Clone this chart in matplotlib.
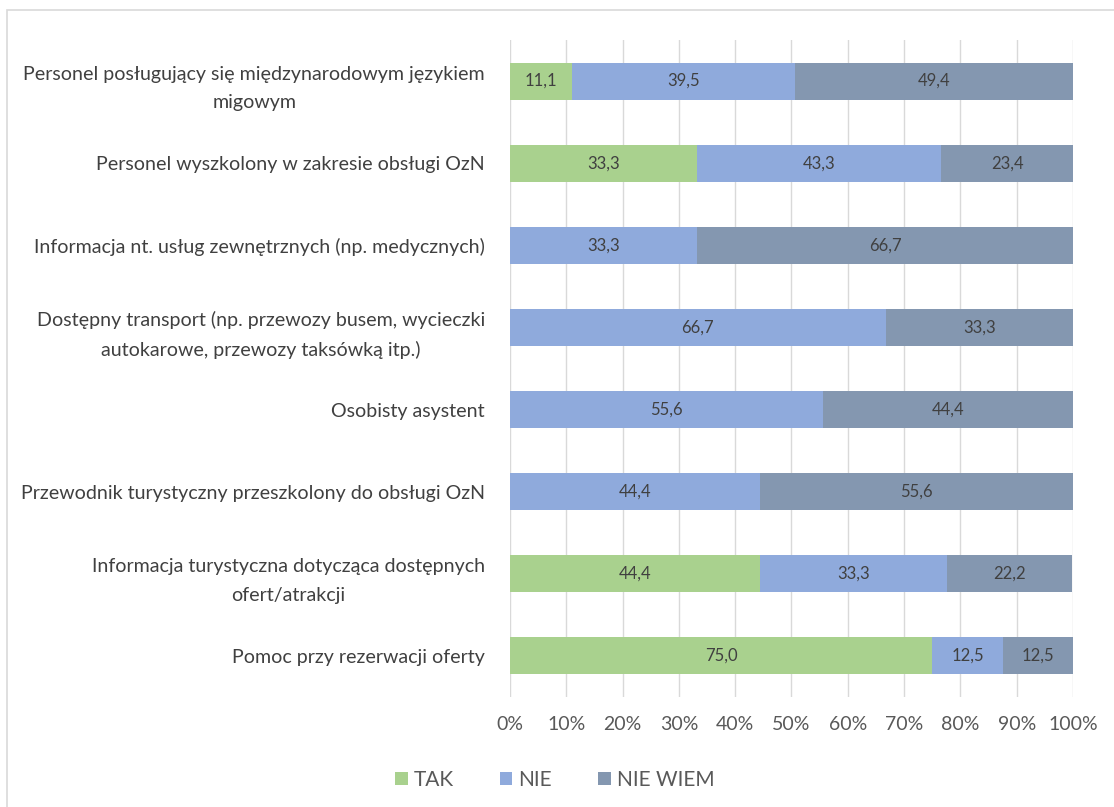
import matplotlib
matplotlib.use('Agg')
import matplotlib.pyplot as plt
import numpy as np
from matplotlib.patches import Rectangle

plt.rcParams['font.family'] = ['Lato', 'DejaVu Sans']

# dane
categories = [
    'Personel posługujący się międzynarodowym językiem\nmigowym',
    'Personel wyszkolony w zakresie obsługi OzN',
    'Informacja nt. usług zewnętrznych (np. medycznych)',
    'Dostępny transport (np. przewozy busem, wycieczki\nautokarowe, przewozy taksówką itp.)',
    'Osobisty asystent',
    'Przewodnik turystyczny przeszkolony do obsługi OzN',
    'Informacja turystyczna dotycząca dostępnych\nofert/atrakcji',
    'Pomoc przy rezerwacji oferty',
]
tak = [11.1, 33.3, 0, 0, 0, 0, 44.4, 75.0]
nie = [39.5, 43.3, 33.3, 66.7, 55.6, 44.4, 33.3, 12.5]
nie_wiem = [49.4, 23.4, 66.7, 33.3, 44.4, 55.6, 22.2, 12.5]
series_names = ['TAK', 'NIE', 'NIE WIEM']
colors = ['#A9D18E', '#8FAADC', '#8497B0']
xticks = [0, 10, 20, 30, 40, 50, 60, 70, 80, 90, 100]

fig = plt.figure(figsize=(11.14, 8.07), dpi=100)
ax = fig.add_axes([0.4578, 0.1363, 0.5054, 0.8141])

# ramka wykresu
fig.patches.append(Rectangle((0.0065, -0.01), 1.0, 0.998, transform=fig.transFigure,
                             fill=False, edgecolor='#D9D9D9', linewidth=1.2))

y = np.arange(len(categories))
left = np.zeros(len(categories))
for name, vals, col in zip(series_names, [tak, nie, nie_wiem], colors):
    vals = np.array(vals)
    ax.barh(y, vals, left=left, height=0.45, color=col, label=name, zorder=3)
    for yi, l, v in zip(y, left, vals):
        if v > 0:
            ax.text(l + v / 2, yi, f'{v:.1f}'.replace('.', ','), ha='center', va='center',
                    fontsize=12, color='#404040', zorder=4)
    left = left + vals

ax.set_xlim(0, 100)
ax.set_ylim(len(categories) - 0.5, -0.5)
ax.set_yticks(y)
ax.set_yticklabels(categories, fontsize=14.1, color='#404040', ha='right',
                   multialignment='center', linespacing=1.8)
ax.tick_params(axis='y', length=0, pad=18)
ax.set_xticks(xticks)
ax.set_xticklabels([f'{t}%' for t in xticks], fontsize=14, color='#595959')
ax.tick_params(axis='x', length=0, pad=14)
ax.grid(axis='x', color='#D9D9D9', linewidth=1, zorder=0)
for s in ax.spines.values():
    s.set_visible(False)

fig.legend(loc='lower center', bbox_to_anchor=(0.498, -0.002), ncol=3, frameon=False,
           fontsize=15, handlelength=0.6, handleheight=0.6, columnspacing=2.2,
           handletextpad=0.3, labelcolor='#595959')

fig.savefig('out.png', dpi=100)
